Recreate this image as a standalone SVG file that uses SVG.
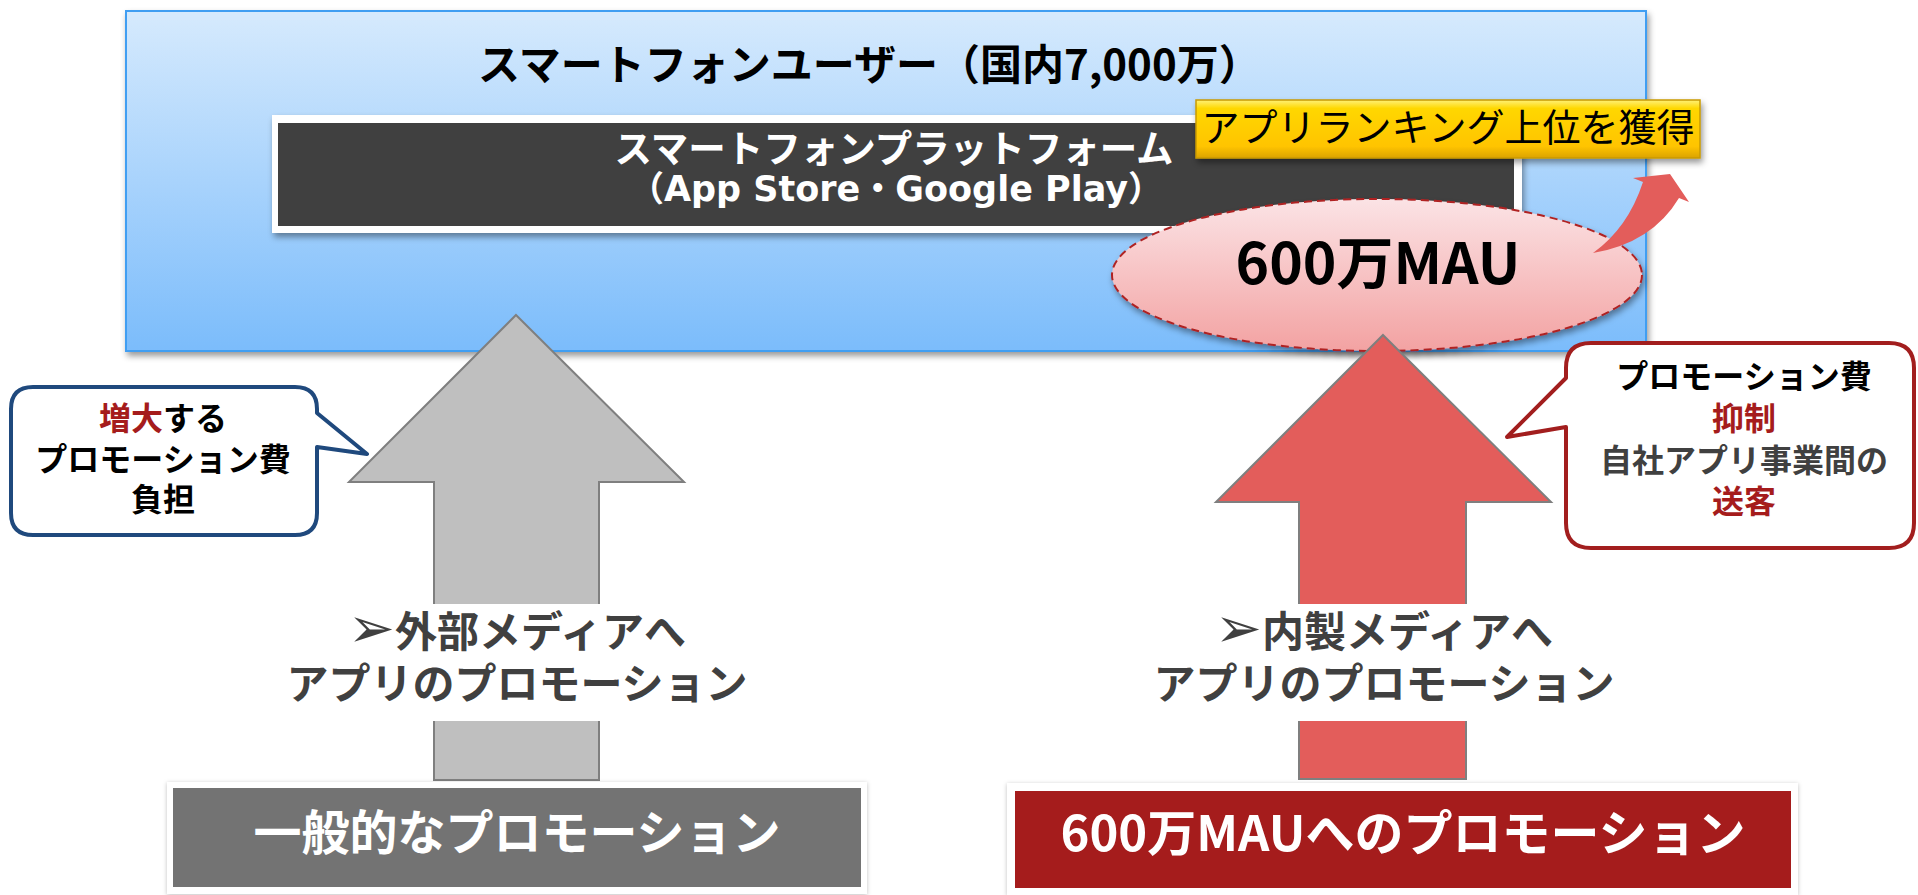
<svg xmlns="http://www.w3.org/2000/svg" width="1918" height="895" viewBox="0 0 1918 895">
  <defs>
    <linearGradient id="gBlue" x1="0" y1="0" x2="0" y2="1">
      <stop offset="0" stop-color="#d6eafd"/>
      <stop offset="1" stop-color="#7bbcfb"/>
    </linearGradient>
    <linearGradient id="gGold" x1="0" y1="0" x2="0" y2="1">
      <stop offset="0" stop-color="#fff176"/>
      <stop offset="0.15" stop-color="#ffd700"/>
      <stop offset="0.8" stop-color="#ffc400"/>
      <stop offset="1" stop-color="#dba300"/>
    </linearGradient>
    <linearGradient id="gPink" x1="0" y1="0" x2="0" y2="1">
      <stop offset="0" stop-color="#fbe3e5"/>
      <stop offset="1" stop-color="#f3a2a2"/>
    </linearGradient>
    <filter id="shadow" x="-10%" y="-10%" width="120%" height="130%">
      <feDropShadow dx="2" dy="4" stdDeviation="3" flood-color="#000" flood-opacity="0.4"/>
    </filter>
    <filter id="softShadow" x="-5%" y="-10%" width="110%" height="130%">
      <feDropShadow dx="0" dy="1" stdDeviation="2" flood-color="#000" flood-opacity="0.25"/>
    </filter>
    <style>
      text { font-family: "Noto Sans CJK JP", "Noto Sans", sans-serif; }
      .b { font-weight: bold; }
      .ctr { text-anchor: middle; }
      .callout { fill: #ffffff; stroke-width: 4; stroke-linejoin: round; }
      .blockArrow { stroke: #7f7f7f; stroke-width: 2; }
      .red { fill: #a51c1c; }
      .dark { fill: #404040; }
      .frame { fill: #ffffff; filter: url(#softShadow); }
      .arrowSym { font-family: "DejaVu Sans", sans-serif; font-weight: normal; }
    </style>
  </defs>

  <rect width="1918" height="895" fill="#ffffff"/>

  <!-- Smartphone users area -->
  <g id="users">
    <rect x="126" y="11" width="1520" height="340" fill="url(#gBlue)" stroke="#3f9ef2" stroke-width="2" filter="url(#shadow)"/>
    <text x="478" y="80" font-size="42" class="b" fill="#000">スマートフォンユーザー（国内7,000万）</text>
  </g>

  <!-- Platform -->
  <g id="platform">
    <rect x="272" y="115" width="1250" height="118" fill="#ffffff" filter="url(#shadow)"/>
    <rect x="278" y="123" width="1236" height="103" fill="#404040"/>
    <text x="894" y="162" font-size="37.5" class="b ctr" fill="#ffffff">スマートフォンプラットフォーム</text>
    <text x="896" y="201" font-size="35" class="b ctr" fill="#ffffff">（<tspan font-family="DejaVu Sans, sans-serif">App Store</tspan>・<tspan font-family="DejaVu Sans, sans-serif">Google Play</tspan>）</text>
  </g>

  <!-- 600万MAU ellipse -->
  <g id="mau">
    <ellipse cx="1377" cy="275" rx="265" ry="76" fill="url(#gPink)" stroke="#b02424" stroke-width="2" stroke-dasharray="8 5" filter="url(#shadow)"/>
    <text x="1378" y="284" font-size="57" class="b ctr" fill="#000">600万MAU</text>
  </g>

  <!-- Ranking label -->
  <g id="ranking">
    <rect x="1196" y="100" width="504" height="58" fill="url(#gGold)" stroke="#c99a00" stroke-width="1.5" filter="url(#shadow)"/>
    <text x="1448" y="141" font-size="38" class="ctr" fill="#000">アプリランキング上位を獲得</text>
  </g>

  <!-- Connectors -->
  <g id="connectors">
    <path d="M1593,253 Q1652,243 1679,198 L1689,202 L1670,174 L1633,178 L1643,182 Q1628,228 1593,253 Z" fill="#e35d5b"/>
    <path class="blockArrow" d="M516,315 L684,482 L599,482 L599,780 L434,780 L434,482 L349,482 Z" fill="#bfbfbf"/>
    <path class="blockArrow" d="M1383,335 L1551,502 L1466,502 L1466,779 L1299,779 L1299,502 L1216,502 Z" fill="#e35d5b"/>
  </g>

  <!-- Left middle label -->
  <g id="label-external">
    <rect x="428" y="604" width="178" height="117" fill="#ffffff"/>
    <text x="517" y="647" font-size="42" class="b ctr dark"><tspan class="arrowSym" font-size="56">➢</tspan>外部メディアへ</text>
    <text x="517" y="699" font-size="42" class="b ctr dark">アプリのプロモーション</text>
  </g>

  <!-- Right middle label -->
  <g id="label-internal">
    <rect x="1293" y="604" width="180" height="117" fill="#ffffff"/>
    <text x="1384" y="647" font-size="42" class="b ctr dark"><tspan class="arrowSym" font-size="56">➢</tspan>内製メディアへ</text>
    <text x="1384" y="699" font-size="42" class="b ctr dark">アプリのプロモーション</text>
  </g>

  <!-- Left callout -->
  <g id="callout-left">
    <path class="callout" stroke="#1f497d" d="M33,387 H295 Q317,387 317,409 V413 L367,454 L317,447 V513 Q317,535 295,535 H33 Q11,535 11,513 V409 Q11,387 33,387 Z"/>
    <text x="163" y="430" font-size="32" class="b ctr"><tspan class="red">増大</tspan><tspan fill="#000">する</tspan></text>
    <text x="163" y="471" font-size="32" class="b ctr" fill="#000">プロモーション費</text>
    <text x="163" y="511" font-size="32" class="b ctr" fill="#000">負担</text>
  </g>

  <!-- Right callout -->
  <g id="callout-right">
    <path class="callout" stroke="#a21e1e" d="M1591,343 H1889 Q1914,343 1914,368 V523 Q1914,548 1889,548 H1591 Q1566,548 1566,523 V427 L1507,437 L1566,378 V368 Q1566,343 1591,343 Z"/>
    <text x="1744" y="388" font-size="32" class="b ctr" fill="#000">プロモーション費</text>
    <text x="1744" y="430" font-size="32" class="b ctr red">抑制</text>
    <text x="1744" y="472" font-size="32" class="b ctr dark">自社アプリ事業間の</text>
    <text x="1744" y="513" font-size="32" class="b ctr red">送客</text>
  </g>

  <!-- Bottom left box -->
  <g id="general-promotion">
    <rect class="frame" x="167" y="782" width="700" height="112"/>
    <rect x="173" y="788" width="688" height="99" fill="#737373"/>
    <text x="517" y="850" font-size="48" class="b ctr" fill="#ffffff">一般的なプロモーション</text>
  </g>

  <!-- Bottom right box -->
  <g id="mau-promotion">
    <rect class="frame" x="1007" y="783" width="791" height="112"/>
    <rect x="1015" y="791" width="776" height="97" fill="#a51c1c"/>
    <text x="1403" y="851" font-size="49" class="b ctr" fill="#ffffff">600万MAUへのプロモーション</text>
  </g>
</svg>
